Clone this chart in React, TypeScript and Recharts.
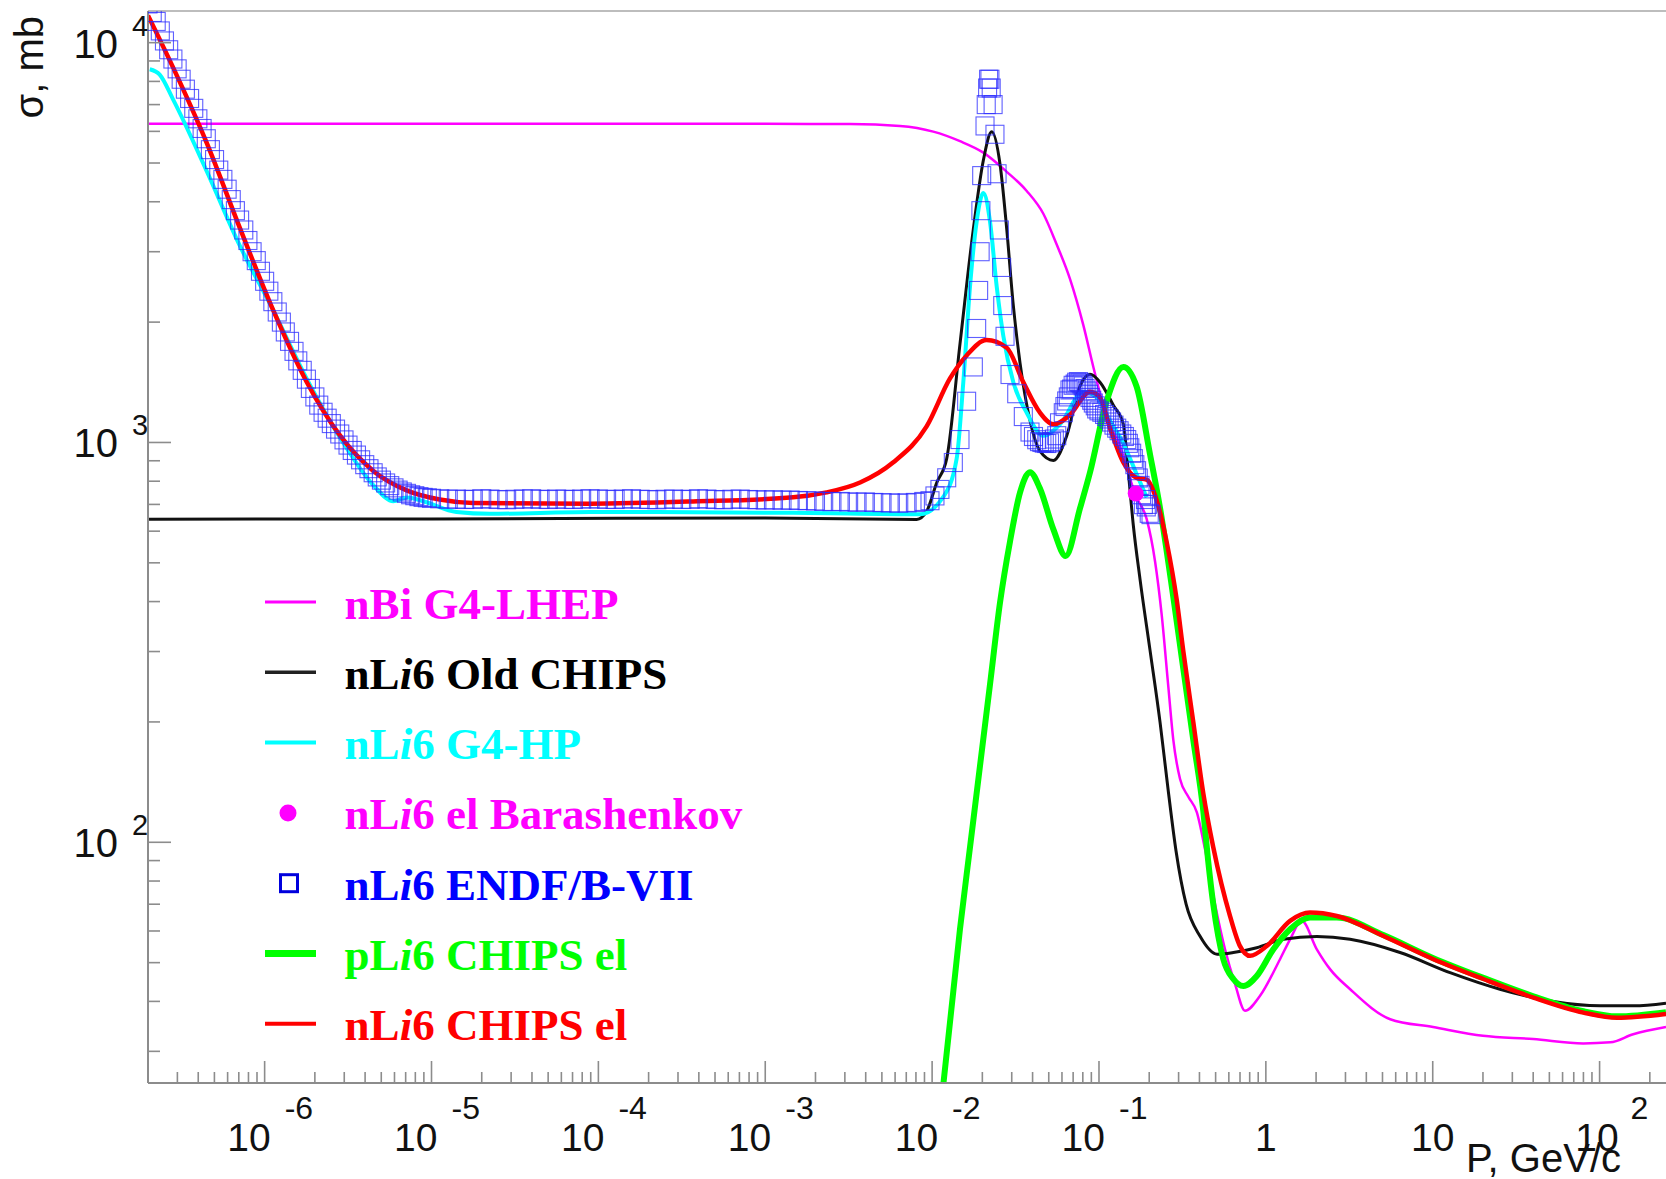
import React from 'react';
import { ComposedChart, Line, Scatter, XAxis, YAxis, Legend } from 'recharts';

// ---------------- data (p in GeV/c, sigma in mb) ----------------
const LHEP_P = [2e-7, 1e-5, 1e-4, 1e-3, 0.00322, 0.00642, 0.01016, 0.01469, 0.02028, 0.028, 0.0369, 0.0464, 0.0558, 0.067, 0.0805, 0.0925, 0.1062, 0.1277, 0.168, 0.193, 0.2168, 0.2377, 0.2603, 0.279, 0.306, 0.343, 0.3855, 0.432, 0.496, 0.569, 0.654, 0.75, 0.923, 1.216, 1.397, 1.64, 2.02, 2.43, 3.2, 5.56, 10.05, 20, 40, 79.8, 116, 159, 250];
const LHEP_SIGMA = [6270, 6270, 6270, 6265, 6260, 6190, 5990, 5670, 5309, 4753, 4256, 3733, 3126, 2566, 1968, 1545, 1239, 1035, 729, 644, 504, 370, 245, 180, 144, 130, 119, 96, 70, 54, 44.2, 37.9, 41.3, 51, 57.2, 63.6, 54, 48.1, 42.9, 36.1, 34.5, 32.8, 32.2, 31.4, 31.6, 33.1, 34.5];

const OLD_CHIPS_P = [2e-7, 1e-5, 1e-3, 0.00808, 0.00928, 0.01065, 0.01223, 0.01469, 0.01766, 0.02028, 0.02277, 0.02553, 0.028, 0.03067, 0.03365, 0.0386, 0.0443, 0.0533, 0.064, 0.077, 0.0883, 0.1014, 0.1219, 0.14, 0.15, 0.1607, 0.1763, 0.2023, 0.2323, 0.2594, 0.2897, 0.3327, 0.4035, 0.51, 0.639, 0.882, 1.273, 2.02, 3.197, 6.37, 12.7, 25.3, 50.6, 101, 160, 250];
const OLD_CHIPS_SIGMA = [643, 644, 647, 642, 673, 793, 911, 1764, 3416, 5082, 5990, 4966, 3416, 2198, 1579, 1135, 952, 902, 1038, 1384, 1481, 1415, 1239, 1110, 841, 619, 454, 302, 199.5, 135.7, 95, 70, 58.2, 52.5, 53.0, 54.5, 57.2, 58.1, 57.2, 53.0, 47.2, 42.9, 40.1, 39.0, 39.0, 39.6];

const G4HP_P = [2.05e-7, 2.35e-7, 2.83e-7, 4.49e-7, 7.11e-7, 1.125e-6, 1.78e-6, 2.95e-6, 4.48e-6, 5.9e-6, 7.1e-6, 8.9e-6, 1.41e-5, 2.24e-5, 8.9e-5, 1.47e-3, 8.46e-3, 0.01167, 0.01403, 0.01538, 0.01687, 0.01849, 0.02028, 0.02223, 0.02438, 0.02673, 0.03067, 0.0369, 0.0464, 0.0584, 0.0805, 0.0969, 0.1164, 0.14, 0.168, 0.193];
const G4HP_SIGMA = [8582, 8318, 7204, 4779, 3101, 2142, 1449, 1000, 782, 713, 728, 713, 670, 663, 670, 667, 661, 731, 911, 1415, 2455, 3568, 4207, 3568, 2455, 1843, 1415, 1187, 1039, 1110, 1339, 1296, 1135, 994, 834, 729];

const BARASH_P = [0.166];
const BARASH_SIGMA = [745];

const ENDF_P = [
  2.00e-7, 2.12e-7, 2.24e-7, 2.37e-7, 2.51e-7, 2.66e-7, 2.82e-7, 2.99e-7, 3.16e-7, 3.35e-7, 3.55e-7, 3.76e-7, 3.98e-7, 4.22e-7,
  4.47e-7, 4.73e-7, 5.01e-7, 5.31e-7, 5.62e-7, 5.96e-7, 6.31e-7, 6.68e-7, 7.08e-7, 7.50e-7, 7.94e-7, 8.41e-7, 8.91e-7, 9.44e-7,
  1.00e-6, 1.06e-6, 1.12e-6, 1.19e-6, 1.26e-6, 1.33e-6, 1.41e-6, 1.50e-6, 1.58e-6, 1.68e-6, 1.78e-6, 1.88e-6, 2.00e-6, 2.11e-6,
  2.24e-6, 2.37e-6, 2.51e-6, 2.66e-6, 2.82e-6, 2.99e-6, 3.16e-6, 3.35e-6, 3.55e-6, 3.76e-6, 3.98e-6, 4.22e-6, 4.47e-6, 4.73e-6,
  5.01e-6, 5.31e-6, 5.62e-6, 5.96e-6, 6.31e-6, 6.68e-6, 7.08e-6, 7.50e-6, 7.94e-6, 8.41e-6, 8.91e-6, 9.44e-6,
  1.00e-5, 1.12e-5, 1.26e-5, 1.41e-5, 1.58e-5, 1.78e-5, 2.00e-5, 2.24e-5, 2.51e-5, 2.82e-5, 3.16e-5, 3.55e-5, 3.98e-5, 4.47e-5, 5.01e-5, 5.62e-5, 6.31e-5, 7.08e-5, 7.94e-5, 8.91e-5,
  1.00e-4, 1.12e-4, 1.26e-4, 1.41e-4, 1.58e-4, 1.78e-4, 2.00e-4, 2.24e-4, 2.51e-4, 2.82e-4, 3.16e-4, 3.55e-4, 3.98e-4, 4.47e-4, 5.01e-4, 5.62e-4, 6.31e-4, 7.08e-4, 7.94e-4, 8.91e-4,
  1.00e-3, 1.12e-3, 1.26e-3, 1.41e-3, 1.58e-3, 1.78e-3, 2.00e-3, 2.24e-3, 2.51e-3, 2.82e-3, 3.16e-3, 3.55e-3, 3.98e-3, 4.47e-3, 5.01e-3, 5.62e-3, 6.31e-3, 7.08e-3, 7.94e-3, 8.91e-3,
  0.00971, 0.0104, 0.01114, 0.01223, 0.0134, 0.01469, 0.0161, 0.01766, 0.01849, 0.019, 0.0194, 0.0196, 0.01982, 0.02075, 0.0211, 0.0215, 0.0218, 0.0222, 0.0226, 0.0232,
  0.0238, 0.0245, 0.0253, 0.0261, 0.0265, 0.02735, 0.0293, 0.03214, 0.0352, 0.0386, 0.0405, 0.04236, 0.044, 0.0455, 0.047, 0.04863, 0.0505, 0.052, 0.054, 0.05585,
  0.058, 0.0611, 0.0625, 0.064, 0.0655, 0.067, 0.0685, 0.07, 0.072, 0.0735, 0.0755, 0.077, 0.079, 0.0805, 0.0825, 0.0845, 0.0865, 0.0883, 0.0905, 0.0925,
  0.095, 0.0969, 0.1, 0.104, 0.108, 0.1112, 0.115, 0.119, 0.123, 0.1277, 0.132, 0.137, 0.142, 0.1466, 0.15, 0.153, 0.157, 0.1607, 0.164, 0.168,
  0.172, 0.1762, 0.18, 0.1845, 0.19, 0.192, 0.195, 0.2, 0.205,
];
const ENDF_SIGMA = [
  12500, 11900, 11300, 10700, 10100, 9600, 9100, 8600, 8100, 7650, 7250, 6850, 6450, 6100,
  5750, 5400, 5100, 4800, 4550, 4300, 4050, 3800, 3600, 3400, 3200, 3000, 2850, 2680,
  2530, 2390, 2250, 2120, 2000, 1890, 1790, 1690, 1600, 1515, 1440, 1365, 1300, 1240,
  1190, 1150, 1115, 1080, 1050, 1015, 985, 955, 930, 905, 880, 860, 840, 820,
  805, 792, 780, 770, 760, 752, 746, 740, 736, 732, 729, 727,
  725, 723, 721, 722, 720, 721, 723, 722, 720, 719, 721, 722, 723, 721, 720, 722, 721, 720, 722, 723,
  722, 721, 720, 722, 723, 721, 720, 719, 721, 722, 720, 721, 723, 722, 720, 719, 721, 722, 720, 719,
  718, 719, 717, 718, 716, 715, 714, 712, 711, 712, 710, 709, 710, 708, 707, 706, 705, 706, 708, 712,
  715, 735, 763, 816, 891, 1017, 1268, 1545, 1928, 2400, 3000, 3800, 4650, 6190, 7000, 7700, 8100, 8100, 7700, 7000,
  5900, 4700, 3400, 2740, 2200, 1843, 1479, 1324, 1161, 1062, 1035, 1016, 1005, 1000, 996, 994, 998, 1005, 1020, 1040,
  1120, 1187, 1230, 1270, 1300, 1353, 1360, 1390, 1400, 1415, 1420, 1410, 1400, 1384, 1365, 1345, 1320, 1296, 1275, 1255,
  1235, 1213, 1200, 1190, 1175, 1161, 1145, 1125, 1105, 1086, 1070, 1050, 1035, 1017, 995, 970, 940, 911, 880, 850,
  815, 781, 740, 699, 720, 690, 700, 665, 660,
];

const PCHIPS_P = [0.01132, 0.01469, 0.01687, 0.01936, 0.02223, 0.02553, 0.0293, 0.03365, 0.0386, 0.0443, 0.0533, 0.0632, 0.0769, 0.0883, 0.1112, 0.14, 0.168, 0.2023, 0.2323, 0.279, 0.32, 0.3676, 0.422, 0.45, 0.484, 0.556, 0.6386, 0.733, 0.882, 1.109, 1.397, 1.84, 2.66, 5.06, 10.1, 20.1, 40.1, 80, 127, 250];
const PCHIPS_SIGMA = [22, 60.7, 97.2, 155.3, 248.3, 398, 565.6, 750, 843, 767, 606, 520, 684, 841, 1270, 1545, 1380, 933, 685, 410, 272, 180, 119.5, 90.7, 70, 51, 45.5, 43.7, 46.3, 54.0, 60.6, 64.8, 64.8, 58.6, 51.3, 45.8, 41.2, 37.8, 36.7, 37.6];

const NCHIPS_P = [2e-7, 2.83e-7, 4.49e-7, 7.11e-7, 1.125e-6, 1.78e-6, 2.82e-6, 4.48e-6, 7.1e-6, 1.12e-5, 1.77e-5, 8.9e-5, 3.69e-4, 1.47e-3, 2.33e-3, 3.7e-3, 5.83e-3, 9.27e-3, 0.0128, 0.0161, 0.0212, 0.028, 0.0352, 0.0443, 0.0533, 0.067, 0.0883, 0.1014, 0.1164, 0.14, 0.168, 0.193, 0.222, 0.255, 0.292, 0.32, 0.3676, 0.422, 0.484, 0.61, 0.70, 0.804, 1.012, 1.397, 1.84, 2.66, 5.06, 10.1, 20.1, 40.1, 80, 127, 250];
const NCHIPS_SIGMA = [11700, 8660, 5623, 3436, 2142, 1421, 1043, 849, 759, 720, 706, 703, 712, 729, 750, 794, 891, 1097, 1446, 1651, 1803, 1725, 1415, 1187, 1110, 1173, 1339, 1296, 1086, 891, 816, 807, 715, 561, 405, 301, 199.6, 132.4, 97.2, 65.4, 55.0, 52.0, 55.0, 63.6, 66.7, 65.4, 58.3, 51.0, 45.5, 40.9, 37.5, 36.4, 37.2];

const SERIES_NAMES = ['nBi G4-LHEP', 'nLi6 Old CHIPS', 'nLi6 G4-HP', 'nLi6 el Barashenkov', 'nLi6 ENDF/B-VII', 'pLi6 CHIPS el', 'nLi6 CHIPS el'];

const X_MAJOR_TICKS = [1e-6, 1e-5, 1e-4, 1e-3, 1e-2, 1e-1, 1, 10, 100];
const X_TICK_BASE = ['10', '10', '10', '10', '10', '10', '1', '10', '10'];
const X_TICK_EXP = ['-6', '-5', '-4', '-3', '-2', '-1', '', '', '2'];
const Y_MAJOR_TICKS = [100, 1000, 10000];
const Y_TICK_BASE = ['10', '10', '10'];
const Y_TICK_EXP = ['2', '3', '4'];
const X_TITLE = 'P, GeV/c';
const Y_TITLE = 'σ, mb';

// ---------------- layout / style ----------------
const W = 1666;
const H = 1179;
const PLOT_LEFT = 148;
const PLOT_TOP = 11;
const X_AXIS_H = 96;
const PLOT_BOTTOM = H - X_AXIS_H;
const X_DOMAIN: [number, number] = [2e-7, 250];
const Y_DOMAIN: [number, number] = [25, 12000];
const AXIS_COLOR = '#8c8c8c';
const SANS = "'Liberation Sans', Arial, Helvetica, sans-serif";
const SERIF = "'Liberation Serif', 'Times New Roman', serif";

const SERIES_STYLES = [
  { kind: 'line', color: '#ff00ff', text: '#ff00ff', lw: 3 },
  { kind: 'line', color: '#222222', text: '#000000', lw: 3.5 },
  { kind: 'line', color: '#00ffff', text: '#00ffff', lw: 4 },
  { kind: 'dot', color: '#ff00ff', text: '#ff00ff', lw: 0 },
  { kind: 'square', color: '#0000dd', text: '#0000ff', lw: 3 },
  { kind: 'line', color: '#00ff00', text: '#00ff00', lw: 7 },
  { kind: 'line', color: '#ff0000', text: '#ff0000', lw: 4 },
];

const zip = (p: number[], s: number[]) => p.map((v, i) => ({ p: v, s: s[i] }));

const buildLogTicks = (lo: number, hi: number, d0: number, d1: number) => {
  const out: number[] = [];
  for (let d = d0; d <= d1; d++) {
    for (let k = 1; k <= 9; k++) {
      const v = Number((k * Math.pow(10, d)).toPrecision(6));
      if (v > lo * 1.0001 && v <= hi) out.push(v);
    }
  }
  return out;
};
const X_TICKS = buildLogTicks(X_DOMAIN[0], X_DOMAIN[1], -7, 2);
const Y_TICKS = buildLogTicks(Y_DOMAIN[0], Y_DOMAIN[1], 1, 4);

const findMajor = (list: number[], v: number) => list.findIndex((m) => Math.abs(m - v) / m < 1e-6);

const XTick = (props: any) => {
  const { x, payload } = props;
  const idx = findMajor(X_MAJOR_TICKS, payload.value);
  const major = idx >= 0;
  const y0 = PLOT_BOTTOM;
  let label = null;
  if (major) {
    const base = X_TICK_BASE[idx];
    const exp = X_TICK_EXP[idx];
    if (!exp) {
      label = (
        <text x={x} y={1151} textAnchor="middle" fontFamily={SANS} fontSize={39} fill="#111">{base}</text>
      );
    } else {
      const neg = exp.startsWith('-');
      label = (
        <g>
          <text x={x + (neg ? 6 : 19)} y={1151} textAnchor="end" fontFamily={SANS} fontSize={39} fill="#111">{base}</text>
          <text x={x + (neg ? 20 : 31)} y={1119} textAnchor="start" fontFamily={SANS} fontSize={32} fill="#111">{exp}</text>
        </g>
      );
    }
  }
  return (
    <g>
      <line x1={x} x2={x} y1={y0} y2={y0 - (major ? 22 : 11)} stroke={AXIS_COLOR} strokeWidth={1.6} />
      {label}
    </g>
  );
};

const YTick = (props: any) => {
  const { y, payload } = props;
  const idx = findMajor(Y_MAJOR_TICKS, payload.value);
  const major = idx >= 0;
  return (
    <g>
      <line x1={PLOT_LEFT} x2={PLOT_LEFT + (major ? 23 : 12)} y1={y} y2={y} stroke={AXIS_COLOR} strokeWidth={1.6} />
      {major && (
        <g>
          <text x={118} y={y + 15} textAnchor="end" fontFamily={SANS} fontSize={40} fill="#111">{Y_TICK_BASE[idx]}</text>
          <text x={132} y={y - 7} textAnchor="start" fontFamily={SANS} fontSize={29} fill="#111">{Y_TICK_EXP[idx]}</text>
        </g>
      )}
    </g>
  );
};

const Square = (props: any) => {
  const { cx, cy } = props;
  if (cx == null || cy == null) return null;
  return <rect x={cx - 9} y={cy - 9} width={18} height={18} fill="none" stroke="#2a2aff" strokeWidth={1.1} strokeOpacity={0.75} />;
};

const Dot = (props: any) => {
  const { cx, cy } = props;
  if (cx == null || cy == null) return null;
  return <circle cx={cx} cy={cy} r={8} fill="#ff00ff" />;
};

const renderLegend = () => (
  <svg width={600} height={520} style={{ display: 'block', overflow: 'visible' }}>
    {SERIES_NAMES.map((name, i) => {
      const st = SERIES_STYLES[i];
      const cy = 32 + i * 70.3;
      let icon;
      if (st.kind === 'line') {
        icon = <line x1={15} x2={66} y1={cy} y2={cy} stroke={st.color} strokeWidth={st.lw} />;
      } else if (st.kind === 'dot') {
        icon = <circle cx={38} cy={cy} r={8.5} fill={st.color} />;
      } else {
        icon = <rect x={30.5} y={cy - 8.5} width={17} height={17} fill="none" stroke={st.color} strokeWidth={st.lw} />;
      }
      const k = name.indexOf('Li6');
      return (
        <g key={name}>
          {icon}
          <text x={94.6} y={cy + 16.5} fill={st.text} fontFamily={SERIF} fontWeight="bold" fontSize={45}>
            {k >= 0 ? (
              <>
                {name.slice(0, k + 1)}
                <tspan fontStyle="italic">i</tspan>
                {name.slice(k + 2)}
              </>
            ) : (
              name
            )}
          </text>
        </g>
      );
    })}
  </svg>
);

const xTitle = () => (
  <text x={1621} y={1172} textAnchor="end" fontFamily={SANS} fontSize={40} fill="#111">{X_TITLE}</text>
);
const yTitle = () => (
  <text x={43} y={16} transform="rotate(-90, 43, 16)" textAnchor="end" fontFamily={SANS} fontSize={40} fill="#111">{Y_TITLE}</text>
);

export default function App() {
  return (
    <div style={{ position: 'absolute', left: 0, top: 0, width: W, height: H, background: '#fff' }}>
      <ComposedChart width={W} height={H} margin={{ top: PLOT_TOP - 1, right: 0, bottom: 0, left: 0 }}>
        <XAxis
          type="number"
          dataKey="p"
          scale="log"
          domain={X_DOMAIN}
          allowDataOverflow
          ticks={X_TICKS}
          interval={0}
          tick={(p: any) => <XTick {...p} />}
          tickLine={false}
          tickSize={0}
          tickMargin={0}
          axisLine={{ stroke: AXIS_COLOR, strokeWidth: 2 }}
          height={X_AXIS_H}
          label={xTitle}
        />
        <XAxis
          xAxisId="top"
          orientation="top"
          type="number"
          dataKey="p"
          scale="log"
          domain={X_DOMAIN}
          allowDataOverflow
          tick={false}
          tickLine={false}
          height={1}
          axisLine={{ stroke: '#bdbdbd', strokeWidth: 2 }}
        />
        <YAxis
          type="number"
          dataKey="s"
          scale="log"
          domain={Y_DOMAIN}
          allowDataOverflow
          ticks={Y_TICKS}
          interval={0}
          tick={(p: any) => <YTick {...p} />}
          tickLine={false}
          tickSize={0}
          tickMargin={0}
          axisLine={{ stroke: AXIS_COLOR, strokeWidth: 2 }}
          width={PLOT_LEFT}
          label={yTitle}
        />
        <Scatter name={SERIES_NAMES[4]} data={zip(ENDF_P, ENDF_SIGMA)} dataKey="s" shape={Square} isAnimationActive={false} />
        <Line name={SERIES_NAMES[0]} data={zip(LHEP_P, LHEP_SIGMA)} dataKey="s" type="monotone" stroke="#ff00ff" strokeWidth={2.5} dot={false} isAnimationActive={false} />
        <Line name={SERIES_NAMES[1]} data={zip(OLD_CHIPS_P, OLD_CHIPS_SIGMA)} dataKey="s" type="monotone" stroke="#111111" strokeWidth={3} dot={false} isAnimationActive={false} />
        <Line name={SERIES_NAMES[2]} data={zip(G4HP_P, G4HP_SIGMA)} dataKey="s" type="monotone" stroke="#00ffff" strokeWidth={4} dot={false} isAnimationActive={false} />
        <Scatter name={SERIES_NAMES[3]} data={zip(BARASH_P, BARASH_SIGMA)} dataKey="s" shape={Dot} isAnimationActive={false} />
        <Line name={SERIES_NAMES[5]} data={zip(PCHIPS_P, PCHIPS_SIGMA)} dataKey="s" type="monotone" stroke="#00ff00" strokeWidth={6} dot={false} isAnimationActive={false} />
        <Line name={SERIES_NAMES[6]} data={zip(NCHIPS_P, NCHIPS_SIGMA)} dataKey="s" type="monotone" stroke="#ff0000" strokeWidth={4.5} dot={false} isAnimationActive={false} />
        <Legend
          content={renderLegend}
          layout="vertical"
          align="center"
          verticalAlign="middle"
          wrapperStyle={{ position: 'absolute', left: 250, top: 570, width: 600, height: 520 }}
        />
      </ComposedChart>
    </div>
  );
}
